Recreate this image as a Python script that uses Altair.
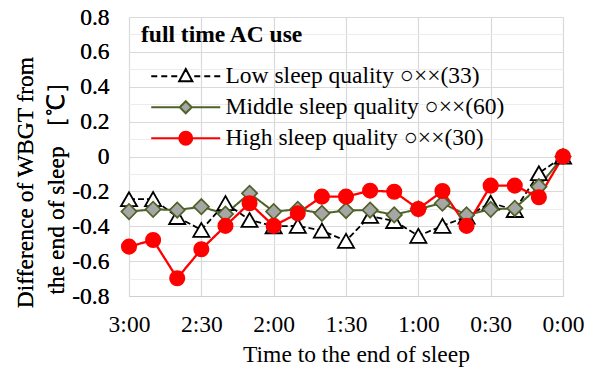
import altair as alt
import pandas as pd
import json

# ---------------- data ----------------
minutes = [180, 170, 160, 150, 140, 130, 120, 110, 100, 90, 80, 70, 60, 50, 40, 30, 20, 10, 0]
series = ["Low sleep quality ○××(33)",
          "Middle sleep quality ○××(60)",
          "High sleep quality ○××(30)"]
low = [-0.245, -0.244, -0.347, -0.421, -0.267, -0.364, -0.400, -0.398, -0.425, -0.484,
       -0.341, -0.370, -0.455, -0.398, -0.345, -0.265, -0.307, -0.096, 0.0]
middle = [-0.316, -0.303, -0.307, -0.288, -0.330, -0.211, -0.316, -0.303, -0.326, -0.310,
          -0.307, -0.335, -0.300, -0.268, -0.335, -0.303, -0.297, -0.173, 0.0]
high = [-0.517, -0.479, -0.698, -0.532, -0.398, -0.268, -0.398, -0.326, -0.230, -0.230,
        -0.196, -0.202, -0.301, -0.198, -0.398, -0.167, -0.167, -0.234, 0.0]
x_tick_values = [180, 150, 120, 90, 60, 30, 0]
x_tick_labels = ["3:00", "2:30", "2:00", "1:30", "1:00", "0:30", "0:00"]
y_major = [-0.8, -0.6, -0.4, -0.2, 0.0, 0.2, 0.4, 0.6, 0.8]
y_minor = [-0.7, -0.5, -0.3, -0.1, 0.1, 0.3, 0.5, 0.7]
legend_title = "full time AC use"
x_title = "Time to the end of sleep"
y_title = ["Difference of WBGT from", "the end of sleep ［℃］"]

line_colors = ["#000000", "#4F6228", "#FF0000"]
marker_fill = ["#FFFFFF", "#A6A6A6", "#FF0000"]
marker_stroke = ["#000000", "#4F6228", "#FF0000"]

rows = []
for name, vals in zip(series, [low, middle, high]):
    for m, v in zip(minutes, vals):
        rows.append({"minutes": m, "value": v, "series": name})
df = pd.DataFrame(rows)

FONT = "Liberation Serif"
LFONT = "Liberation Serif, Noto Sans CJK JP"
FS = 23.5

x_label_expr = (f"{json.dumps(x_tick_labels)}[indexof({json.dumps(x_tick_values)}, datum.value)]")

x_enc = alt.X("minutes:Q",
              scale=alt.Scale(domain=[180, 0], nice=False, zero=False),
              axis=alt.Axis(values=x_tick_values, labelExpr=x_label_expr, title=x_title,
                            grid=True, gridColor="#d9d9d9", gridWidth=1.2,
                            ticks=False, tickSize=0, domain=True, domainColor="#cfcfcf",
                            domainWidth=1.2,
                            labelFont=FONT, labelFontSize=FS, labelColor="black",
                            labelPadding=16, labelFlush=False,
                            titleFont=FONT, titleFontSize=FS, titleFontWeight="normal",
                            titleColor="black", titleX=227, titleY=65,
                            titleBaseline="alphabetic", titleAnchor="middle"))

y_enc = alt.Y("value:Q",
              scale=alt.Scale(domain=[-0.8, 0.8], nice=False),
              axis=alt.Axis(values=y_major, orient="left",
                            labelExpr="datum.value == 0 ? '0' : replace(format(datum.value, '.1f'), '\u2212', '-')",
                            grid=True, gridColor="#d9d9d9", gridWidth=1.2,
                            ticks=False, tickSize=0, domain=False,
                            labelFont=FONT, labelFontSize=FS, labelColor="black",
                            labelPadding=20, labelFlush=False,
                            title=y_title, titleFont=FONT, titleFontSize=FS,
                            titleFontWeight="normal", titleColor="black",
                            titleAngle=270, titleBaseline="middle", titleAlign="center",
                            titleLineHeight=31, titleX=-104, titleY=165))

y_minor_enc = alt.Y("value:Q",
                    scale=alt.Scale(domain=[-0.8, 0.8], nice=False),
                    axis=alt.Axis(values=y_minor, grid=True, gridColor="#ececec",
                                  gridWidth=1.2, labels=False, ticks=False, domain=False,
                                  title=None, orient="left"))

base = alt.Chart(df)

minor_grid = base.mark_point(opacity=0).encode(x=x_enc, y=y_minor_enc)

lines = base.mark_line().encode(
    x=x_enc, y=y_enc,
    color=alt.Color("series:N", scale=alt.Scale(domain=series, range=line_colors), legend=None),
    strokeDash=alt.StrokeDash("series:N",
                              scale=alt.Scale(domain=series, range=[[6, 3], [1, 0], [1, 0]]),
                              legend=None),
    strokeWidth=alt.StrokeWidth("series:N",
                                scale=alt.Scale(domain=series, range=[1.8, 2.3, 2.0]),
                                legend=None),
    detail="series:N",
)

points = base.mark_point(filled=False, opacity=1).encode(
    x=x_enc, y=y_enc,
    shape=alt.Shape("series:N",
                    scale=alt.Scale(domain=series, range=["triangle-up", "diamond", "circle"]),
                    legend=None),
    fill=alt.Fill("series:N", scale=alt.Scale(domain=series, range=marker_fill), legend=None),
    stroke=alt.Stroke("series:N", scale=alt.Scale(domain=series, range=marker_stroke), legend=None),
    size=alt.Size("series:N", scale=alt.Scale(domain=series, range=[260, 210, 250]), legend=None),
    strokeWidth=alt.StrokeWidth("series:N", scale=alt.Scale(domain=series, range=[1.8, 1.6, 1.0]),
                                legend=None),
)

# legend symbols: line + marker as custom paths (unit = sqrt(symbolSize)/2 px)
p_low = ("M -3.45 0 L -2.85 0 M -2.45 0 L -1.85 0 M -1.45 0 L -0.85 0 "
         "M 0.85 0 L 1.45 0 M 1.85 0 L 2.45 0 M 2.85 0 L 3.45 0 "
         "M 0 -0.72 L 0.66 0.5 L -0.66 0.5 Z")
p_mid = ("M -3.45 0 L -0.6 0 M 0.6 0 L 3.45 0 "
         "M -0.6 0 L 0 -0.6 L 0.6 0 L 0 0.6 Z")
p_high = ("M -3.45 0 L -0.65 0 M 0.65 0 L 3.45 0 "
          "M -0.65 0 A 0.65 0.65 0 1 0 0.65 0 A 0.65 0.65 0 1 0 -0.65 0 Z")

leg = alt.Legend(orient="none", legendX=12, legendY=6, padding=0,
                 title=legend_title, titleFont=FONT, titleFontSize=FS,
                 titleFontWeight="bold", titleColor="black", titlePadding=18,
                 labelFont=LFONT, labelFontSize=FS, labelColor="black", labelLimit=0,
                 symbolSize=400, symbolStrokeWidth=2, symbolOffset=33, labelOffset=28,
                 symbolOpacity=1, rowPadding=6)

legend_layer = alt.Chart(pd.DataFrame({"series": series})).transform_filter("false").mark_point(
    filled=False, opacity=1).encode(
    shape=alt.Shape("series:N", scale=alt.Scale(domain=series, range=[p_low, p_mid, p_high]),
                    legend=leg),
    fill=alt.Fill("series:N", scale=alt.Scale(domain=series, range=marker_fill), legend=leg),
    stroke=alt.Stroke("series:N", scale=alt.Scale(domain=series, range=marker_stroke), legend=leg),
)

chart = alt.layer(minor_grid, lines, points, legend_layer).resolve_scale(
    shape="independent", fill="independent", stroke="independent",
    color="independent", strokeWidth="independent", size="independent",
).resolve_axis(y="independent").properties(
    width=434, height=279, autosize="none",
    padding={"left": 129, "top": 17, "right": 32, "bottom": 75},
    background="white",
).configure_view(stroke=None)

chart.save("out.html", embed_options={"renderer": "svg", "actions": False})
